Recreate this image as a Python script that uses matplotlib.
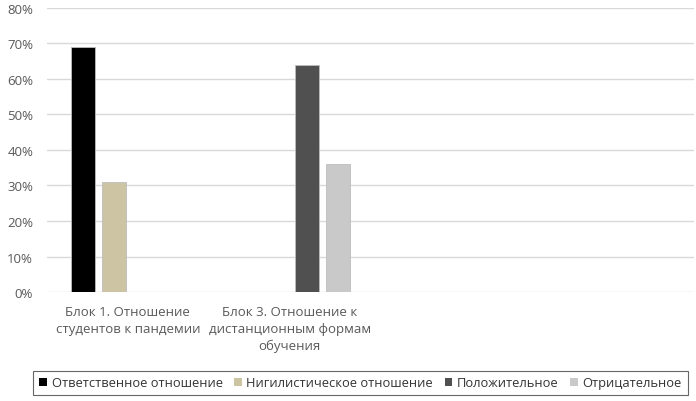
import matplotlib
matplotlib.use("Agg")
import matplotlib.pyplot as plt
from matplotlib.patches import Patch
import numpy as np

plt.rcParams['font.family'] = ['Open Sans', 'DejaVu Sans']

categories = ["Блок 1. Отношение\nстудентов к пандемии",
              "Блок 3. Отношение к\nдистанционным формам\nобучения",
              "", ""]
series_names = ["Ответственное отношение", "Нигилистическое отношение",
                "Положительное", "Отрицательное"]
series_values = [
    [0.69, 0, 0, 0],
    [0.31, 0, 0, 0],
    [0, 0.64, 0, 0],
    [0, 0.36, 0, 0],
]
series_colors = ["#000000", "#cdc4a4", "#505050", "#c9c9c9"]
y_ticks = [0, 0.1, 0.2, 0.3, 0.4, 0.5, 0.6, 0.7, 0.8]
y_labels = ["0%", "10%", "20%", "30%", "40%", "50%", "60%", "70%", "80%"]

fig = plt.figure(figsize=(6.96, 4.02), dpi=100)
ax = fig.add_axes([0.0675, 0.271, 0.93, 0.707])

x = np.arange(len(categories))
slot = 0.191
width = 0.150
for i, (vals, col) in enumerate(zip(series_values, series_colors)):
    offs = (i - 1.5) * slot
    v = np.array(vals)
    mask = v > 0
    ax.bar(x[mask] + offs + 0.01, v[mask], width=width, color=col,
           edgecolor="#bdbdbd", linewidth=0.6, zorder=3)

ax.set_xlim(-0.5, len(categories) - 0.5)
ax.set_ylim(0, 0.8)
ax.set_yticks(y_ticks)
ax.set_yticklabels(y_labels)
ax.set_xticks(x)
ax.set_xticklabels(categories, linespacing=1.4)
ax.tick_params(axis='both', length=0, labelsize=9.5, colors="#595959")
ax.tick_params(axis='x', pad=9)
ax.tick_params(axis='y', pad=10)
ax.grid(axis='y', color="#d9d9d9", linewidth=1, zorder=0)
for s in ax.spines.values():
    s.set_visible(False)

handles = [Patch(facecolor=c, edgecolor='none') for c in series_colors]
leg = fig.legend(handles, series_names, loc='center',
                 bbox_to_anchor=(0.518, 0.045), ncol=4, frameon=True,
                 fancybox=False, edgecolor="#404040", fontsize=9.3,
                 handlelength=0.6, handleheight=0.6, handletextpad=0.35,
                 columnspacing=0.9, borderpad=0.45, borderaxespad=0)
leg.get_frame().set_linewidth(0.8)
for t in leg.get_texts():
    t.set_color("#333333")

fig.savefig("out.png", dpi=100, facecolor="white")
